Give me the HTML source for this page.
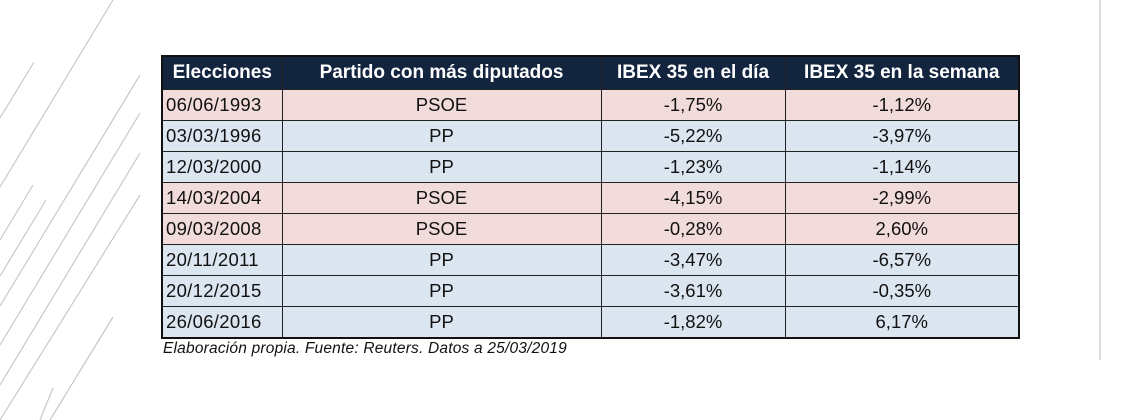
<!DOCTYPE html>
<html><head><meta charset="utf-8"><style>
body{margin:0;width:1145px;height:420px;background:#fff;position:relative;overflow:hidden;font-family:"Liberation Sans",sans-serif}
svg.bg{position:absolute;left:0;top:0}
table{position:absolute;left:161px;top:55px;border-collapse:collapse;border:2px solid #111;font-size:18.5px;color:#111;table-layout:fixed}
td,th{border:1px solid #222;padding:0;text-align:center;height:30px;white-space:nowrap;overflow:hidden}
th{background:#13243f;color:#fff;font-weight:bold;height:32px;font-size:19px}
td.d{text-align:left;padding-left:3px;letter-spacing:0.3px}
tr.r td{background:#f2dcdb}
tr.b td{background:#dce6f1}
.cap{position:absolute;left:163px;top:340px;font-style:italic;font-size:15.5px;letter-spacing:0.2px;color:#111}
</style></head><body>
<svg class="bg" width="1145" height="420">
<g stroke="#c8c8c8" stroke-width="1.2">
<line x1="113" y1="0" x2="0" y2="187"/><line x1="34" y1="62" x2="0" y2="118"/>
<line x1="140" y1="75" x2="0" y2="306"/><line x1="140" y1="113" x2="0" y2="345"/>
<line x1="140" y1="153" x2="0" y2="385"/><line x1="140" y1="195" x2="0" y2="420"/>
<line x1="33" y1="185" x2="0" y2="240"/><line x1="46" y1="200" x2="0" y2="276"/>
<line x1="113" y1="317" x2="50" y2="420"/><line x1="53" y1="388" x2="40" y2="420"/>
<line x1="1100" y1="0" x2="1100" y2="360"/>
</g></svg>
<table>
<colgroup><col style="width:120px"><col style="width:319px"><col style="width:184px"><col style="width:234px"></colgroup>
<tr><th>Elecciones</th><th>Partido con más diputados</th><th>IBEX 35 en el día</th><th>IBEX 35 en la semana</th></tr>
<tr class="r"><td class="d">06/06/1993</td><td>PSOE</td><td>-1,75%</td><td>-1,12%</td></tr>
<tr class="b"><td class="d">03/03/1996</td><td>PP</td><td>-5,22%</td><td>-3,97%</td></tr>
<tr class="b"><td class="d">12/03/2000</td><td>PP</td><td>-1,23%</td><td>-1,14%</td></tr>
<tr class="r"><td class="d">14/03/2004</td><td>PSOE</td><td>-4,15%</td><td>-2,99%</td></tr>
<tr class="r"><td class="d">09/03/2008</td><td>PSOE</td><td>-0,28%</td><td>2,60%</td></tr>
<tr class="b"><td class="d">20/11/2011</td><td>PP</td><td>-3,47%</td><td>-6,57%</td></tr>
<tr class="b"><td class="d">20/12/2015</td><td>PP</td><td>-3,61%</td><td>-0,35%</td></tr>
<tr class="b"><td class="d">26/06/2016</td><td>PP</td><td>-1,82%</td><td>6,17%</td></tr>
</table>
<div class="cap">Elaboración propia. Fuente: Reuters. Datos a 25/03/2019</div>
</body></html>
